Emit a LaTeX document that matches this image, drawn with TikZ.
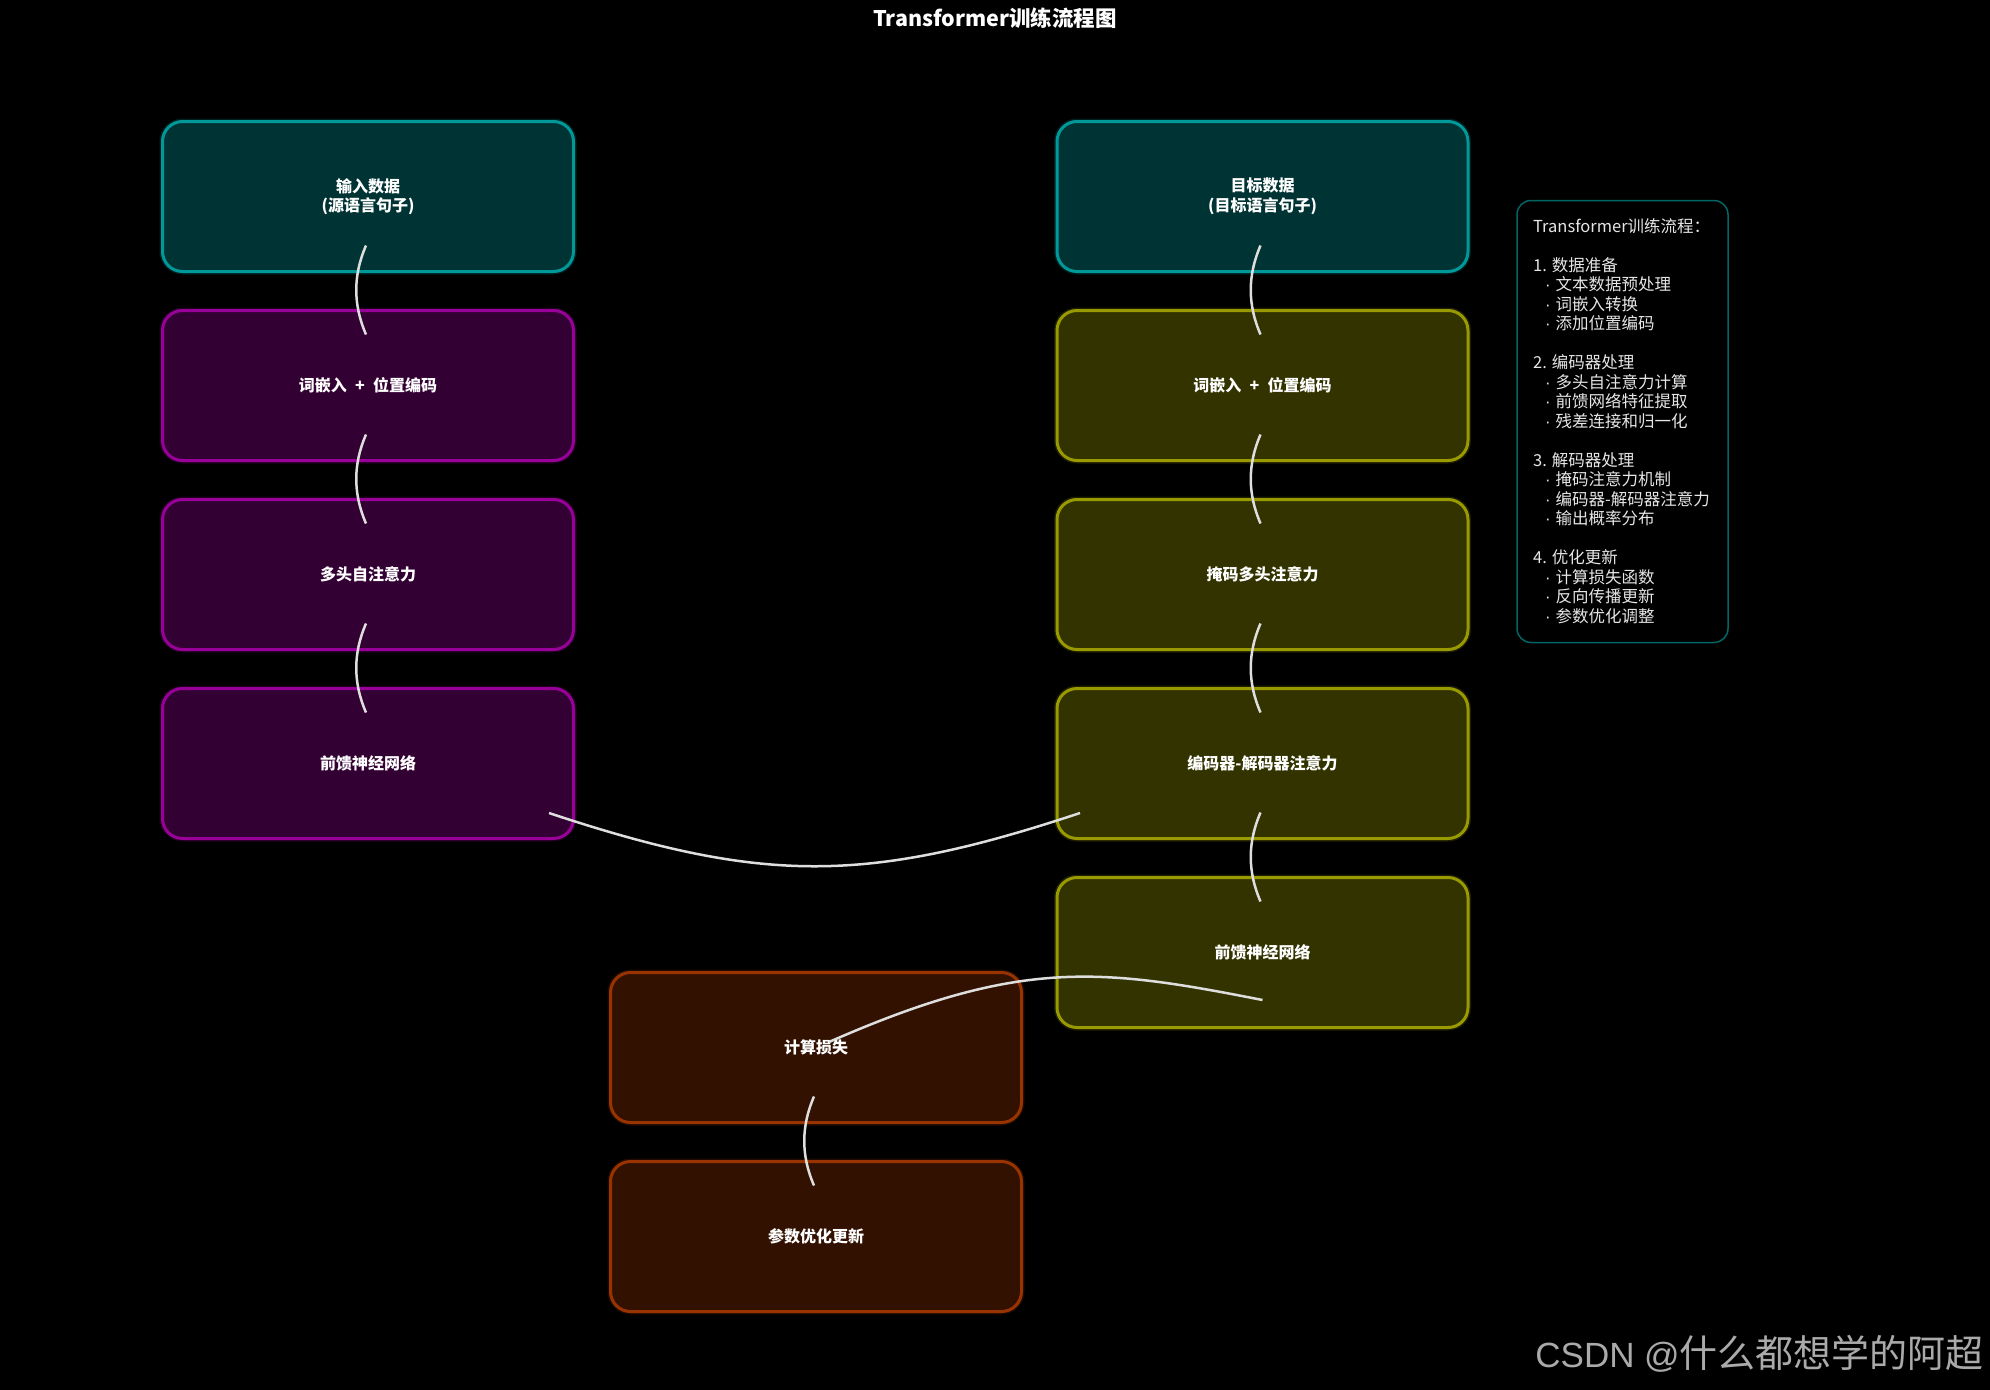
\documentclass[tikz,border=0pt]{standalone}
\usepackage{fontspec}
\setmainfont{Noto Sans CJK SC}
\newfontfamily\wmlatin{Liberation Sans}
\usetikzlibrary{calc}

\definecolor{tealfill}{RGB}{0,51,51}
\definecolor{tealline}{RGB}{0,153,153}
\definecolor{purpfill}{RGB}{51,0,51}
\definecolor{purpline}{RGB}{153,0,153}
\definecolor{yelfill}{RGB}{51,51,0}
\definecolor{yelline}{RGB}{153,153,0}
\definecolor{redfill}{RGB}{51,17,0}
\definecolor{redline}{RGB}{153,51,0}
\definecolor{infoline}{RGB}{0,102,102}
\definecolor{linkcol}{RGB}{222,222,222}
\definecolor{infotext}{RGB}{230,230,230}
\definecolor{wmgray}{RGB}{170,170,170}

% one bulleted entry of the side panel
\newcommand{\panelitem}[1]{\hspace*{12pt}{\wmlatin\textperiodcentered}\hspace{5pt}#1}

\begin{document}
\begin{tikzpicture}[x=1pt,y=-1pt,
  stage/.style={rectangle, rounded corners=20pt, line width=3pt,
    minimum width=411pt, minimum height=150pt, inner sep=0pt,
    text=white, align=center,
    font=\fontsize{16}{19.5}\selectfont\bfseries},
  glowing/.style={preaction={draw=#1, line width=6pt, opacity=0.2}},
  source/.style={stage, fill=tealfill, draw=tealline, glowing=tealline},
  encoder/.style={stage, fill=purpfill, draw=purpline, glowing=purpline},
  decoder/.style={stage, fill=yelfill, draw=yelline, glowing=yelline},
  training/.style={stage, fill=redfill, draw=redline, glowing=redline},
  link/.style={draw=linkcol, line width=2.5pt},
  infobox/.style={rectangle, rounded corners=14pt, draw=infoline,
    line width=1.5pt, minimum width=211pt, minimum height=442pt, inner sep=0pt},
  infolines/.style={align=left, inner sep=0pt, text=infotext,
    font=\fontsize{16.5}{19.5}\selectfont},
]
% canvas
\fill[black] (0,0) rectangle (1990,1390);
\useasboundingbox (0,0) rectangle (1990,1390);

% title
\node[text=white, font=\fontsize{21.5}{24}\selectfont\bfseries] (title) at (995,18)
  {Transformer训练流程图};

% encoder column
\node[source]  (src) at (368,196.5) {输入数据\\(源语言句子)};
\node[encoder] (eemb) at (368,385.5) {词嵌入\hspace{4.5pt} + \hspace{4.5pt}位置编码};
\node[encoder] (eatt) at (368,574.5) {多头自注意力};
\node[encoder] (effn) at (368,763.5) {前馈神经网络};

% decoder column
\node[source]  (tgt) at (1262.5,196.5) {目标数据\\(目标语言句子)};
\node[decoder] (demb) at (1262.5,385.5) {词嵌入\hspace{4.5pt} + \hspace{4.5pt}位置编码};
\node[decoder] (datt) at (1262.5,574.5) {掩码多头注意力};
\node[decoder] (dcross) at (1262.5,763.5) {编码器-解码器注意力};
\node[decoder] (dffn) at (1262.5,952.5) {前馈神经网络};

% loss and update
\node[training] (loss) at (816,1047.5) {计算损失};
\node[training] (upd) at (816,1236.5) {参数优化更新};

% vertical links inside each column
\foreach \a/\b in {src/eemb, eemb/eatt, eatt/effn,
                   tgt/demb, demb/datt, datt/dcross, dcross/dffn, loss/upd} {
  \draw[link] ($(\a.center)+(-2,49)$)
    .. controls ($(\a.center)+(-15,79)$) and ($(\b.center)+(-15,-81)$)
    .. ($(\b.center)+(-2,-51)$);
}

% encoder output into the cross attention
\draw[link] ($(effn.center)+(181,49.5)$)
  .. controls ($(effn.center)+(395,120.5)$) and ($(dcross.center)+(-396.5,120.5)$)
  .. ($(dcross.center)+(-182.5,49.5)$);

% decoder output into the loss
\draw[link] ($(dffn.center)+(0,47.5)$)
  .. controls ($(dffn.center)+(-162.5,15.5)$) and ($(loss.center)+(204,-89.5)$)
  .. ($(loss.center)+(13,-5.5)$);

% side panel
\node[infobox] (info) at (1622.5,421.5) {};
\node[infolines, anchor=north west] (infotext) at (1533,218) {%
Transformer训练流程：\\[19.5pt]
1. 数据准备\\
\panelitem{文本数据预处理}\\
\panelitem{词嵌入转换}\\
\panelitem{添加位置编码}\\[19.5pt]
2. 编码器处理\\
\panelitem{多头自注意力计算}\\
\panelitem{前馈网络特征提取}\\
\panelitem{残差连接和归一化}\\[19.5pt]
3. 解码器处理\\
\panelitem{掩码注意力机制}\\
\panelitem{编码器-解码器注意力}\\
\panelitem{输出概率分布}\\[19.5pt]
4. 优化更新\\
\panelitem{计算损失函数}\\
\panelitem{反向传播更新}\\
\panelitem{参数优化调整}};

% signature
\node[anchor=east, text=wmgray, inner sep=0pt] (sig) at (1984,1354)
  {{\wmlatin\fontsize{35}{40}\selectfont CSDN @}{\fontsize{38}{44}\selectfont 什么都想学的阿超}};
\end{tikzpicture}
\end{document}
